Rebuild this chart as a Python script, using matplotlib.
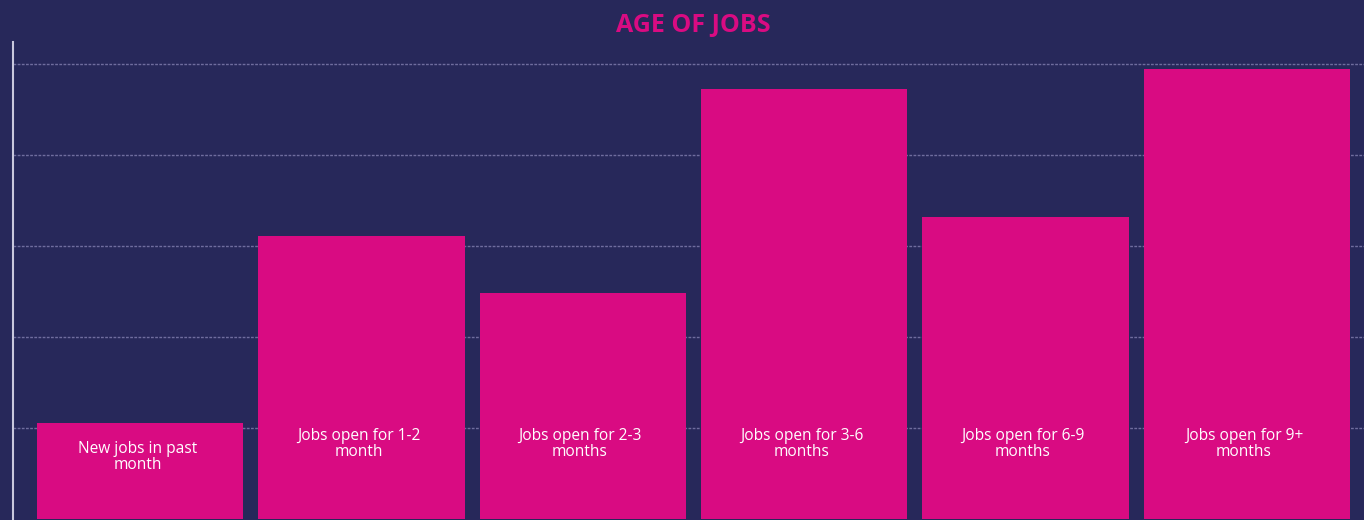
import matplotlib
matplotlib.use("Agg")
import matplotlib.pyplot as plt

# data (units of the hidden y scale)
categories = ["New jobs in past\nmonth", "Jobs open for 1-2\nmonth", "Jobs open for 2-3\nmonths",
              "Jobs open for 3-6\nmonths", "Jobs open for 6-9\nmonths", "Jobs open for 9+\nmonths"]
values = [5.3, 15.55, 12.4, 23.6, 16.6, 24.7]
grid_ticks = [5, 10, 15, 20, 25]

bg = "#27285a"
pink = "#d90b82"

fig = plt.figure(figsize=(13.64, 5.2), dpi=100, facecolor=bg)
ax = fig.add_axes([13 / 1364, 1 / 520, 1 - 13 / 1364, 477 / 520], facecolor=bg)

x = list(range(len(values)))
ax.bar(x, values, width=0.932, color=pink, zorder=3)

for i, (lab, v) in enumerate(zip(categories, values)):
    ax.text(i - 0.012, min(4.1, v - 1.9), lab, ha="center", va="center", color="white",
            fontsize=11.2, family="Open Sans", linespacing=1.02, zorder=4)

ax.set_xlim(-0.574, 5.53)
ax.set_ylim(0, 26.2)
ax.set_yticks(grid_ticks)
ax.set_xticks([])
ax.yaxis.grid(True, linestyle=(0, (2, 1)), color="#6f6d9e", linewidth=1, zorder=1)
ax.tick_params(left=False, labelleft=False)
for s in ["top", "right", "bottom"]:
    ax.spines[s].set_visible(False)
ax.spines["left"].set_color("#c9c8dd")
ax.spines["left"].set_linewidth(1.5)

fig.text(693 / 1364, 1 - 25 / 520, "AGE OF JOBS", ha="center", va="center", color=pink,
         fontsize=18, fontweight="bold", family="Open Sans")

fig.savefig("out.png", dpi=100, facecolor=bg)
